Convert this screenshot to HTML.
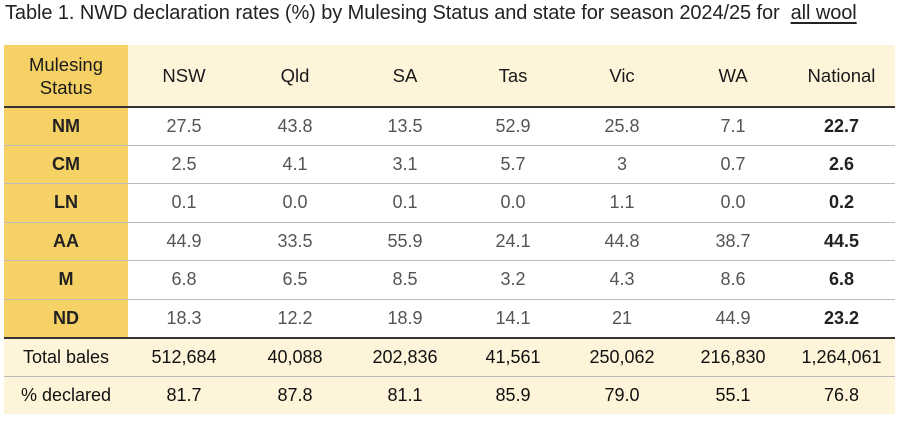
<!DOCTYPE html>
<html><head><meta charset="utf-8"><style>
body{margin:0;width:900px;height:425px;background:#fff;font-family:"Liberation Sans",sans-serif;position:relative;overflow:hidden;color:#222}
.t{position:absolute;left:5px;top:2px;font-size:20px;color:#222;white-space:nowrap;letter-spacing:-0.08px}
.t u{text-underline-offset:3px}
.bg{position:absolute}
.c{position:absolute;text-align:center;display:flex;align-items:center;justify-content:center;font-size:18px}
.h{color:#1a1a1a;font-size:18.5px}
.d{color:#555}
.b{font-weight:bold;color:#222}
.s{color:#111}
.ln{position:absolute;left:4px;width:891px;height:1px;background:#bbb}
.tk{position:absolute;left:4px;width:891px;height:2px;background:#333}
</style></head><body>
<div class="t">Table 1. NWD declaration rates (%) by Mulesing Status and state for season 2024/25 for&nbsp; <u>all wool</u></div>
<div class="bg" style="left:4px;top:45px;width:891px;height:62px;background:#fdf4da"></div>
<div class="bg" style="left:4px;top:45px;width:124px;height:293px;background:#f6d166"></div>
<div class="bg" style="left:4px;top:338px;width:891px;height:76px;background:#fdf4da"></div>
<div class="tk" style="top:106px"></div>
<div class="ln" style="top:145px"></div>
<div class="ln" style="top:183px"></div>
<div class="ln" style="top:222px"></div>
<div class="ln" style="top:260px"></div>
<div class="ln" style="top:299px"></div>
<div class="tk" style="top:337px"></div>
<div class="ln" style="top:376px"></div>
<div id="g"></div>
<script>
const xs=[4,128,240,350,460,566,678,788,895];
const rows=[
["h",45,107,["Mulesing<br>Status","NSW","Qld","SA","Tas","Vic","WA","National"]],
["d",107,145,["NM","27.5","43.8","13.5","52.9","25.8","7.1","22.7"]],
["d",145,183,["CM","2.5","4.1","3.1","5.7","3","0.7","2.6"]],
["d",183,222,["LN","0.1","0.0","0.1","0.0","1.1","0.0","0.2"]],
["d",222,260,["AA","44.9","33.5","55.9","24.1","44.8","38.7","44.5"]],
["d",260,299,["M","6.8","6.5","8.5","3.2","4.3","8.6","6.8"]],
["d",299,338,["ND","18.3","12.2","18.9","14.1","21","44.9","23.2"]],
["s",338,376,["Total bales","512,684","40,088","202,836","41,561","250,062","216,830","1,264,061"]],
["s",376,414,["% declared","81.7","87.8","81.1","85.9","79.0","55.1","76.8"]]];
let h="";
for(const [k,y0,y1,cells] of rows){
 cells.forEach((v,i)=>{
  let cls=k;
  if(k=="d"&&(i==0||i==7))cls="b";
  let lh=(k=="h"&&i==0)?"line-height:23px;":"";
  h+=`<div class="c ${cls}" style="left:${xs[i]}px;width:${xs[i+1]-xs[i]}px;top:${y0}px;height:${y1-y0}px;${lh}">${v}</div>`;
 });
}
document.getElementById("g").innerHTML=h;
</script>
</body></html>
